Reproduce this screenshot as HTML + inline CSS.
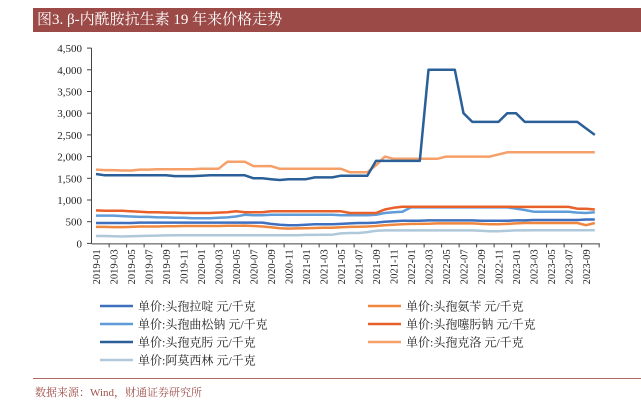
<!DOCTYPE html>
<html><head><meta charset="utf-8">
<style>
body{margin:0;background:#fff;width:641px;height:406px;overflow:hidden;font-family:"Liberation Serif","Noto Serif CJK SC",serif;}
#title{position:absolute;left:33px;top:8px;width:608px;height:24px;background:#9B4A47;color:#fff;font-size:15px;line-height:24px;padding-left:4px;box-sizing:border-box;font-family:"Liberation Serif","Noto Serif CJK SC",serif;}
#src{position:absolute;left:35px;top:384px;font-size:11px;color:#a0504a;}
#rule{position:absolute;left:33px;top:378px;width:608px;height:1px;background:#b06a64;}
</style></head>
<body>
<div id="title">图3. β-内酰胺抗生素 19 年来价格走势</div>
<svg id="chart" width="641" height="406" style="position:absolute;left:0;top:0;font-family:'Liberation Serif','Noto Serif CJK SC',serif"></svg>
<div id="rule"></div>
<div id="src">数据来源：Wind，财通证券研究所</div>
<script>
const months = [];
for (let y = 2019; y <= 2023; y++) for (let m = 1; m <= 12; m++) { if (y === 2023 && m > 10) break; months.push(y + '-' + String(m).padStart(2, '0')); }
const yTicks = [0,500,1000,1500,2000,2500,3000,3500,4000,4500];
const seriesNames = ['单价:头孢拉啶 元/千克','单价:头孢氨苄 元/千克','单价:头孢曲松钠 元/千克','单价:头孢噻肟钠 元/千克','单价:头孢克肟 元/千克','单价:头孢克洛 元/千克','单价:阿莫西林 元/千克'];
const lalading = [470,470,470,470,470,480,480,480,480,480,480,480, 480,480,480,480,480,480,480,480,450,430,420,420, 430,440,440,440,450,460,470,470,480,500,510,520, 520,520,530,530,530,530,530,530,520,520,520,520, 530,530,540,540,540,540,540,540,550,550];
const anbian = [380,380,375,375,380,390,390,390,395,395,400,400, 400,400,400,405,405,410,400,390,370,350,340,345, 350,355,360,360,370,380,385,390,400,420,430,440, 450,450,455,460,460,460,460,460,450,440,440,450, 460,470,470,470,470,470,470,470,420,470];
const qusong = [640,640,640,630,620,610,610,600,600,590,590,580, 580,580,590,600,620,660,650,650,660,660,660,660, 660,660,660,660,650,650,650,650,660,700,720,730, 830,830,830,830,830,830,830,830,830,830,830,830, 800,770,730,730,730,730,730,710,700,720];
const saiwo = [760,750,750,750,740,730,720,720,710,710,700,700, 700,700,710,720,740,720,720,720,740,740,740,740, 740,740,740,740,740,700,700,700,700,780,820,845, 845,845,845,845,845,845,845,845,845,845,845,845, 840,840,840,840,840,840,840,800,800,780];
const kewo = [1600,1570,1570,1570,1570,1570,1570,1570,1570,1550,1550,1550, 1560,1570,1570,1570,1570,1570,1500,1500,1480,1460,1480,1480, 1480,1520,1520,1520,1560,1560,1560,1560,1900,1900,1900,1900, 1900,1900,4000,4000,4000,4000,3000,2800,2800,2800,2800,3000, 3000,2800,2800,2800,2800,2800,2800,2800,2650,2500];
const keluo = [1700,1690,1690,1680,1680,1700,1700,1710,1710,1710,1710,1710, 1720,1720,1720,1880,1880,1880,1780,1780,1780,1720,1720,1720, 1720,1720,1720,1720,1720,1640,1640,1640,1800,2000,1950,1950, 1950,1950,1950,1950,2000,2000,2000,2000,2000,2000,2050,2100, 2100,2100,2100,2100,2100,2100,2100,2100,2100,2100];
const amoxilin = [170,170,165,160,165,170,175,180,185,190,190,190, 190,190,190,190,190,190,190,190,190,190,190,190, 195,195,200,200,230,240,240,260,290,300,300,300, 300,300,300,300,300,300,300,300,290,280,280,290, 300,300,305,305,305,305,305,305,305,305];
const seriesData = [lalading, anbian, qusong, saiwo, kewo, keluo, amoxilin];
const colors = ['#3F70C0','#F0873F','#5F9CD8','#E8602A','#2A5F98','#F4A068','#AFC8DA'];
const NS = 'http://www.w3.org/2000/svg';
const svg = document.getElementById('chart');
const x0 = 96, step = 8.75, yBase = 243.4, yPer = 21.7 / 500;
const X = i => x0 + i * step;
const Y = v => yBase - v * yPer;
function mk(tag, attrs) { const e = document.createElementNS(NS, tag); for (const k in attrs) e.setAttribute(k, attrs[k]); svg.appendChild(e); return e; }
// y axis
const yAxis = mk('line', {x1: 91.5, y1: Y(4500), x2: 91.5, y2: yBase, stroke: '#444', 'stroke-width': 1});


yTicks.forEach(v => {
  const t = mk('line', {x1: 87, y1: Y(v), x2: 91.5, y2: Y(v), stroke: '#444'});
  
  
  const l = mk('text', {x: 82, y: Y(v) + 4, 'text-anchor': 'end', 'font-size': 11, fill: '#222'});
  l.textContent = v.toLocaleString('en-US');
  
  
});
// x axis
const xAxis = mk('line', {x1: 91.5, y1: yBase + 0.5, x2: X(months.length - 1) + 5, y2: yBase + 0.5, stroke: '#444'});


months.forEach((m, i) => {
  if (i % 2 === 1 || i === months.length - 1) {
    const t = mk('line', {x1: X(i) + step / 2, y1: yBase, x2: X(i) + step / 2, y2: yBase + 4, stroke: '#444'});
    
    
  }
  if (i % 2 === 0 && i < 57) {
    const l = mk('text', {x: 0, y: 0, 'text-anchor': 'end', 'font-size': 10.5, fill: '#222', transform: `translate(${X(i) + 4},${yBase + 6}) rotate(-90)`});
    l.textContent = m;
    
    
  }
});
// series
const order = [6, 1, 0, 2, 3, 5, 4];
order.forEach(s => {
  const d = seriesData[s].map((v, i) => (i ? 'L' : 'M') + X(i).toFixed(1) + ' ' + Y(v).toFixed(1)).join(' ');
  const p = mk('path', {d, fill: 'none', stroke: colors[s], 'stroke-width': 2.5, 'stroke-linejoin': 'round'});
  
  
});
// legend
const legPos = [[100,306],[368,306],[100,324],[368,324],[100,342],[368,342],[100,360]];
seriesNames.forEach((n, s) => {
  const [lx, ly] = legPos[s];
  const ln = mk('line', {x1: lx, y1: ly, x2: lx + 33, y2: ly, stroke: colors[s], 'stroke-width': 2.5});
  
  
  const t = mk('text', {x: lx + 38, y: ly + 4.5, 'font-size': 12, fill: '#222'});
  t.textContent = n;
  
  
});
</script>
</body></html>
